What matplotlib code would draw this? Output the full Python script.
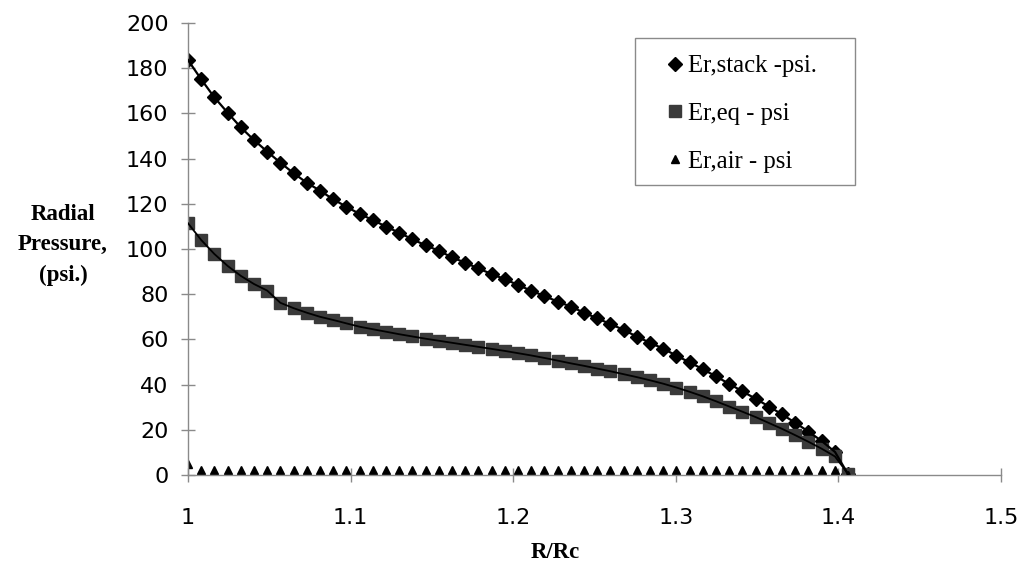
import matplotlib
matplotlib.use("Agg")
import matplotlib.pyplot as plt
from matplotlib.patches import Rectangle

# R/Rc sample positions
r_ratio = [1.0000, 1.0081, 1.0162, 1.0244, 1.0325, 1.0406, 1.0487, 1.0568, 1.0650, 1.0731,
           1.0812, 1.0893, 1.0974, 1.1056, 1.1137, 1.1218, 1.1299, 1.1380, 1.1462, 1.1543,
           1.1624, 1.1705, 1.1786, 1.1868, 1.1949, 1.2030, 1.2111, 1.2192, 1.2274, 1.2355,
           1.2436, 1.2517, 1.2598, 1.2680, 1.2761, 1.2842, 1.2923, 1.3004, 1.3086, 1.3167,
           1.3248, 1.3329, 1.3410, 1.3492, 1.3573, 1.3654, 1.3735, 1.3816, 1.3898, 1.3979,
           1.4060]

# radial pressure, psi
er_stack = [183.6, 175.1, 167.1, 160.3, 153.8, 148.2, 143.1, 138.2, 133.5, 129.3,
            125.8, 122.0, 118.7, 115.5, 112.8, 109.9, 107.2, 104.3, 101.6, 99.2,
            96.3, 93.9, 91.4, 88.9, 86.6, 84.1, 81.5, 79.2, 76.7, 74.5,
            71.8, 69.3, 66.8, 64.2, 61.2, 58.5, 55.9, 52.8, 49.8, 46.8,
            43.6, 40.3, 37.0, 33.7, 30.3, 26.8, 23.1, 19.2, 15.0, 10.2,
            0.3]

er_eq = [111.4, 104.0, 97.8, 92.5, 88.1, 84.5, 81.6, 76.2, 73.8, 71.8,
         70.0, 68.6, 67.1, 65.6, 64.5, 63.4, 62.3, 61.3, 60.3, 59.4,
         58.5, 57.6, 56.7, 55.8, 54.9, 53.9, 52.9, 51.8, 50.6, 49.4,
         48.3, 47.1, 45.9, 44.6, 43.3, 41.9, 40.4, 38.7, 36.8, 34.8,
         32.6, 30.3, 28.0, 25.6, 23.0, 20.4, 17.6, 14.7, 11.6, 8.2,
         0.4]

er_air = [5.0, 2.0, 2.0, 2.0, 2.0, 2.0, 2.0, 2.0, 2.0, 2.0,
          2.0, 2.0, 2.0, 2.0, 2.0, 2.0, 2.0, 2.0, 2.0, 2.0,
          2.0, 2.0, 2.0, 2.0, 2.0, 2.0, 2.0, 2.0, 2.0, 2.0,
          2.0, 2.0, 2.0, 2.0, 2.0, 2.0, 2.0, 2.0, 2.0, 2.0,
          2.0, 2.0, 2.0, 2.0, 2.0, 2.0, 2.0, 2.0, 2.0, 2.0,
          0.0]

series_labels = ["Er,stack -psi.", "Er,eq - psi", "Er,air - psi"]
y_ticks = [0, 20, 40, 60, 80, 100, 120, 140, 160, 180, 200]
x_ticks = [1, 1.1, 1.2, 1.3, 1.4, 1.5]
x_ticklabels = ["1", "1.1", "1.2", "1.3", "1.4", "1.5"]

W, H = 1026, 575
fig = plt.figure(figsize=(W / 100, H / 100), dpi=100)
ax = fig.add_axes([188 / W, 1 - 475 / H, 813 / W, 452 / H])

# markers
ax.plot(r_ratio, er_stack, linestyle="none", marker="D", markersize=7.4,
        color="black", label=series_labels[0])
ax.plot(r_ratio, er_eq, linestyle="none", marker="s", markersize=9.0,
        color="#3a3a3a", label=series_labels[1])
ax.plot(r_ratio, er_air, linestyle="none", marker="^", markersize=5.8,
        color="black", label=series_labels[2])
# connecting lines
ax.plot(r_ratio, er_stack, color="black", linewidth=1.6, zorder=3)
ax.plot(r_ratio, er_eq, color="black", linewidth=1.3, zorder=3)

ax.set_xlim(1, 1.5)
ax.set_ylim(0, 200)
ax.set_xticks(x_ticks)
ax.set_xticklabels(x_ticklabels)
ax.set_yticks(y_ticks)

for side in ["top", "right"]:
    ax.spines[side].set_visible(False)
for side in ["left", "bottom"]:
    ax.spines[side].set_color("#8a8a8a")
    ax.spines[side].set_linewidth(1.0)

ax.tick_params(axis="y", direction="inout", length=10, width=1, color="#8a8a8a",
               labelsize=16, pad=9)
ax.tick_params(axis="x", direction="inout", length=10, width=1, color="#8a8a8a",
               labelsize=16, pad=19)
for lbl in ax.get_xticklabels() + ax.get_yticklabels():
    lbl.set_family("DejaVu Sans")

fig.text(63 / W, 1 - 245 / H, "Radial\nPressure,\n(psi.)", ha="center", va="center",
         family="Liberation Serif", fontweight="bold", fontsize=16.5, linespacing=1.6)
fig.text(555 / W, 1 - 552 / H, "R/Rc", ha="center", va="center",
         family="Liberation Serif", fontweight="bold", fontsize=16.5)

# legend box, drawn inside the axes so the legend sits on top of it
ax.add_patch(Rectangle((635 / W, 1 - 185 / H), 220 / W, 147 / H,
                       transform=fig.transFigure, facecolor="white",
                       edgecolor="#8a8a8a", linewidth=1.0, zorder=4, clip_on=False))
leg = ax.legend(loc="upper left", bbox_to_anchor=(668 / W, 1 - 55 / H),
                bbox_transform=fig.transFigure, prop={"family": "Liberation Serif", "size": 17.8},
                frameon=False, handlelength=0.6, handletextpad=0.2,
                labelspacing=1.03, borderpad=0, borderaxespad=0)
leg.set_zorder(5)

fig.savefig("out.png", dpi=100)
